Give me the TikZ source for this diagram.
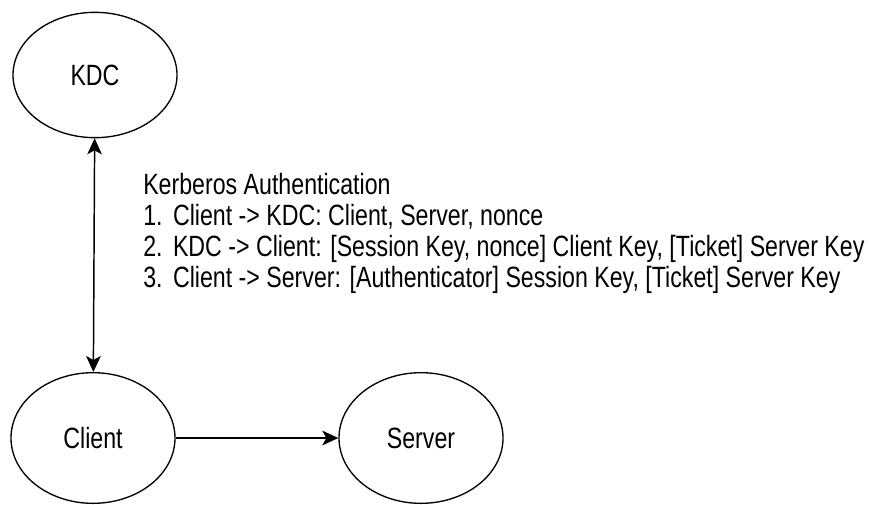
\documentclass[tikz,border=0pt]{standalone}
\usepackage{fontspec}
\setmainfont{Liberation Sans}[FakeStretch=0.79]
\usetikzlibrary{arrows.meta}
\usetikzlibrary{shapes.geometric}

\tikzset{
  party/.style={ellipse, draw, line width=1pt, minimum width=123pt, minimum height=94pt, inner sep=0pt, font=\fontsize{22}{24}\selectfont},
}

\begin{document}
\begin{tikzpicture}[x=0.75pt, y=-0.75pt, >={Stealth[length=12pt,width=11pt,inset=3pt]}]
    \useasboundingbox (0,0) rectangle (888,504);
    \node[party] (kdc) at (95,75) {KDC};
    \node[party, minimum height=98pt] (client) at (93,438) {Client};
    \node[party, minimum height=98pt] (server) at (421,438) {Server};
    \draw[line width=1.1pt, <->] (kdc) -- (client);
    \draw[line width=1.1pt, ->] (client) -- (server);
    \node[anchor=north west, align=left, inner sep=0pt, font=\fontsize{22}{23.3}\selectfont] (steps) at (143,173)
      {Kerberos Authentication\\
       1.\ \hspace{3pt}Client -> KDC: Client, Server, nonce\\
       2.\ \hspace{3pt}KDC -> Client: [Session Key, nonce] Client Key, [Ticket] Server Key\\
       3.\ \hspace{3pt}Client -> Server: [Authenticator] Session Key, [Ticket] Server Key};
  \end{tikzpicture}
\end{document}
